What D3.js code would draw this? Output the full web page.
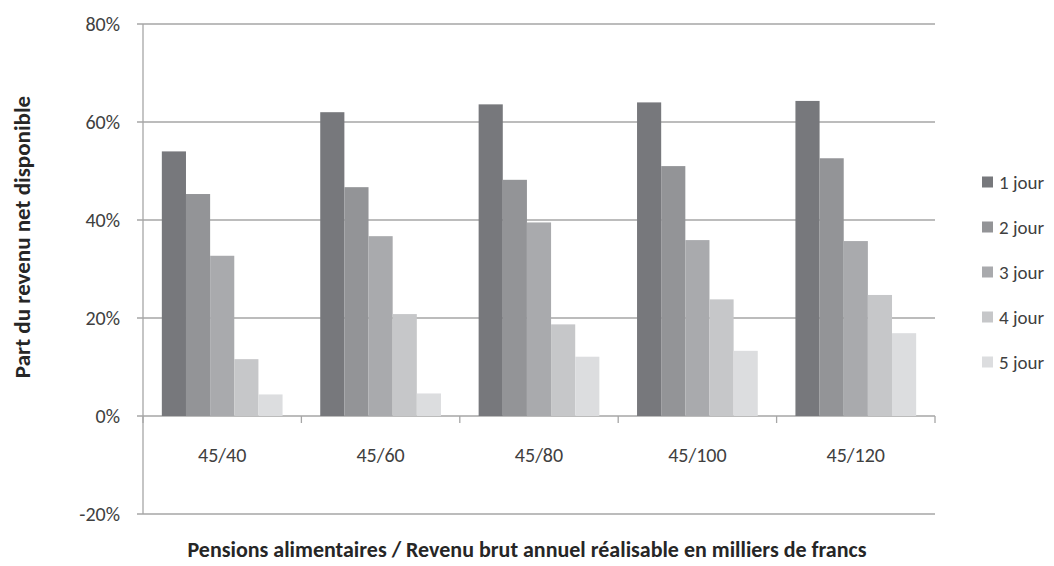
<!DOCTYPE html>
<html>
<head>
<meta charset="utf-8">
<script src="https://cdn.jsdelivr.net/npm/d3@7"></script>
<style>
  html, body { margin: 0; padding: 0; background: #fff; }
  #chart { width: 1054px; height: 566px; }
  text { font-family: Carlito, Calibri, Lato, sans-serif; }
</style>
</head>
<body>
<div id="chart"></div>
<script>
const categories = ["45/40", "45/60", "45/80", "45/100", "45/120"];
const seriesNames = ["1 jour", "2 jour", "3 jour", "4 jour", "5 jour"];
const seriesValues = [
  [54.0, 62.0, 63.6, 64.0, 64.3],
  [45.3, 46.7, 48.2, 51.0, 52.6],
  [32.7, 36.7, 39.5, 35.9, 35.7],
  [11.6, 20.8, 18.7, 23.8, 24.7],
  [4.4, 4.6, 12.1, 13.3, 16.9]
];
const yTicks = [-20, 0, 20, 40, 60, 80];
const colors = ["#77787c", "#939497", "#a9aaad", "#c6c7c9", "#dcdddf"];

function draw() {
  const w = 1054, h = 566;
  const margin = { top: 24, right: 119, bottom: 52, left: 143 };
  const innerW = w - margin.left - margin.right;
  const innerH = h - margin.top - margin.bottom;

  const svg = d3.select("#chart").append("svg")
    .attr("width", w).attr("height", h);

  const g = svg.append("g")
    .attr("transform", `translate(${margin.left},${margin.top})`);

  const y = d3.scaleLinear().domain([-20, 80]).range([innerH, 0]);
  const x0 = d3.scaleBand().domain(categories).range([0, innerW]).padding(0);
  const x1 = d3.scaleBand().domain(seriesNames).range([0, x0.bandwidth()])
    .paddingInner(0).paddingOuter(0.78);

  // gridlines
  g.append("g").selectAll("line")
    .data(yTicks)
    .join("line")
    .attr("x1", -6).attr("x2", innerW)
    .attr("y1", d => y(d)).attr("y2", d => y(d))
    .attr("stroke", "#a6a6a6").attr("stroke-width", 1.3);

  // y axis line
  g.append("line")
    .attr("x1", 0).attr("x2", 0)
    .attr("y1", y(80)).attr("y2", y(-20))
    .attr("stroke", "#a6a6a6").attr("stroke-width", 1.3);

  // y tick labels
  g.append("g").selectAll("text")
    .data(yTicks)
    .join("text")
    .attr("x", -23).attr("y", d => y(d))
    .attr("dy", "0.36em")
    .attr("text-anchor", "end")
    .attr("font-size", 20)
    .attr("fill", "#404040")
    .text(d => d + "%");

  // bars
  const groups = g.append("g").selectAll("g")
    .data(categories)
    .join("g")
    .attr("transform", d => `translate(${x0(d)},0)`);

  groups.selectAll("rect")
    .data((c, i) => seriesNames.map((s, j) => ({ s, j, v: seriesValues[j][i] })))
    .join("rect")
    .attr("x", d => x1(d.s))
    .attr("width", x1.bandwidth())
    .attr("y", d => y(Math.max(0, d.v)))
    .attr("height", d => Math.abs(y(d.v) - y(0)))
    .attr("fill", d => colors[d.j]);

  // category ticks on the 0 line
  const bounds = categories.map(c => x0(c)).concat([innerW]);
  g.append("g").selectAll("line")
    .data(bounds)
    .join("line")
    .attr("x1", d => d).attr("x2", d => d)
    .attr("y1", y(0)).attr("y2", y(0) + 7)
    .attr("stroke", "#a6a6a6").attr("stroke-width", 1.3);

  // category labels
  g.append("g").selectAll("text")
    .data(categories)
    .join("text")
    .attr("x", d => x0(d) + x0.bandwidth() / 2)
    .attr("y", y(0) + 46)
    .attr("text-anchor", "middle")
    .attr("font-size", 20)
    .attr("fill", "#404040")
    .text(d => d);

  // axis titles
  svg.append("text")
    .attr("transform", "translate(22,237) rotate(-90)")
    .attr("dy", "0.35em")
    .attr("text-anchor", "middle")
    .attr("font-size", 23)
    .attr("font-weight", "bold")
    .attr("fill", "#262626")
    .text("Part du revenu net disponible");

  svg.append("text")
    .attr("x", 527).attr("y", 557)
    .attr("text-anchor", "middle")
    .attr("font-size", 22)
    .attr("font-weight", "bold")
    .attr("fill", "#262626")
    .text("Pensions alimentaires / Revenu brut annuel réalisable en milliers de francs");

  // legend
  const legend = svg.append("g").attr("transform", "translate(982,182)");
  const item = legend.selectAll("g")
    .data(seriesNames)
    .join("g")
    .attr("transform", (d, i) => `translate(0,${i * 45})`);
  item.append("rect")
    .attr("x", 0).attr("y", -5.5)
    .attr("width", 11).attr("height", 11)
    .attr("fill", (d, i) => colors[i]);
  item.append("text")
    .attr("x", 17).attr("y", 0)
    .attr("dy", "0.36em")
    .attr("font-size", 19)
    .attr("fill", "#404040")
    .text(d => d);
}

draw();
</script>
</body>
</html>
